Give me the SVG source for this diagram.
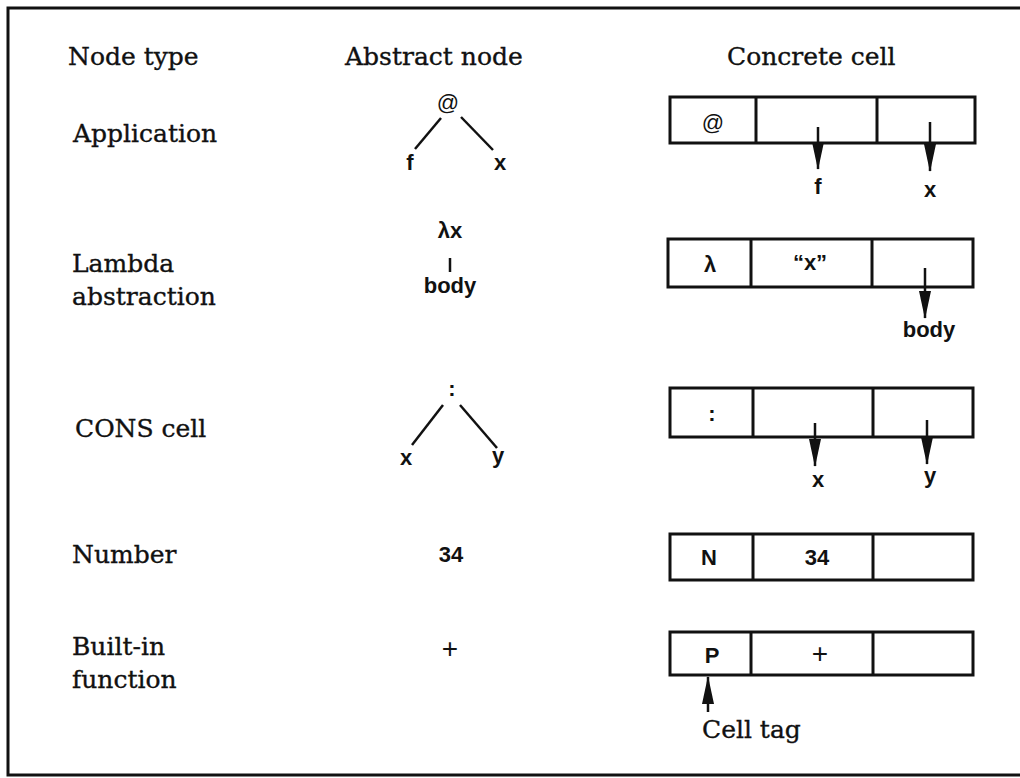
<svg xmlns="http://www.w3.org/2000/svg" width="1020" height="778" viewBox="0 0 1020 778">
<defs>
<style>
.hd{font-family:"DejaVu Serif","Liberation Serif",serif;font-size:25px;fill:#111;stroke:#111;stroke-width:0.35}
.lb{font-family:"Liberation Sans",Arial,sans-serif;font-size:22px;font-weight:bold;fill:#111;text-anchor:middle}
.pl{font-family:"Liberation Sans",Arial,sans-serif;font-size:28px;font-weight:normal;fill:#111;text-anchor:middle}
.cell{fill:none;stroke:#111;stroke-width:3}
.div{stroke:#111;stroke-width:3}
.ln{stroke:#111;stroke-width:2.5;fill:none}
.ar{stroke:#111;stroke-width:2.5;fill:none;marker-end:url(#ah)}
</style>
<marker id="ah" viewBox="0 0 28 12" refX="27" refY="6" markerWidth="28" markerHeight="12" markerUnits="userSpaceOnUse" orient="auto">
<path d="M0,0 L28,6 L0,12 Z" fill="#111"/>
</marker>
</defs>
<rect width="1020" height="778" fill="#fff"/>
<rect x="8" y="8" width="1030" height="767" fill="none" stroke="#111" stroke-width="3"/>

<g id="headers">
<text class="hd" x="68" y="65">Node type</text>
<text class="hd" x="345" y="65">Abstract node</text>
<text class="hd" x="727" y="65">Concrete cell</text>
</g>

<g id="row-application">
<text class="hd" x="73" y="142">Application</text>
<text class="lb" x="448" y="110" style="font-weight:normal">@</text>
<text class="lb" x="410" y="170">f</text>
<text class="lb" x="500" y="170">x</text>
<g id="cell-application">
<rect class="cell" x="670" y="97" width="305" height="46"/>
<line class="div" x1="756" y1="97" x2="756" y2="143"/>
<line class="div" x1="877" y1="97" x2="877" y2="143"/>
<text class="lb" x="713" y="130" style="font-weight:normal">@</text>
<text class="lb" x="818" y="194">f</text>
<text class="lb" x="930" y="197">x</text>
</g>
</g>

<g id="row-lambda">
<text class="hd" x="72" y="272">Lambda</text>
<text class="hd" x="72" y="305">abstraction</text>
<text class="lb" x="450" y="238">λx</text>
<text class="lb" x="450" y="293">body</text>
<g id="cell-lambda">
<rect class="cell" x="668" y="239" width="305" height="48"/>
<line class="div" x1="751" y1="239" x2="751" y2="287"/>
<line class="div" x1="872" y1="239" x2="872" y2="287"/>
<text class="lb" x="710" y="272">λ</text>
<text class="lb" x="810" y="270">“x”</text>
<text class="lb" x="929" y="337">body</text>
</g>
</g>

<g id="row-cons">
<text class="hd" x="75" y="437">CONS cell</text>
<text class="lb" x="452" y="396">:</text>
<text class="lb" x="406" y="465">x</text>
<text class="lb" x="498" y="463">y</text>
<g id="cell-cons">
<rect class="cell" x="670" y="388" width="303" height="49"/>
<line class="div" x1="753" y1="388" x2="753" y2="437"/>
<line class="div" x1="873" y1="388" x2="873" y2="437"/>
<text class="lb" x="712" y="421">:</text>
<text class="lb" x="818" y="487">x</text>
<text class="lb" x="930" y="483">y</text>
</g>
</g>

<g id="row-number">
<text class="hd" x="72" y="563">Number</text>
<text class="lb" x="451" y="562">34</text>
<g id="cell-number">
<rect class="cell" x="670" y="534" width="303" height="46"/>
<line class="div" x1="753" y1="534" x2="753" y2="580"/>
<line class="div" x1="873" y1="534" x2="873" y2="580"/>
<text class="lb" x="709" y="565">N</text>
<text class="lb" x="817" y="565">34</text>
</g>
</g>

<g id="row-builtin">
<text class="hd" x="72" y="655">Built-in</text>
<text class="hd" x="72" y="688">function</text>
<text class="pl" x="450" y="658">+</text>
<g id="cell-builtin">
<rect class="cell" x="670" y="632" width="303" height="43"/>
<line class="div" x1="751" y1="632" x2="751" y2="675"/>
<line class="div" x1="873" y1="632" x2="873" y2="675"/>
<text class="lb" x="712" y="663">P</text>
<text class="pl" x="820" y="663">+</text>
<text class="hd" x="702" y="738">Cell tag</text>
</g>
</g>

<g id="connectors">
<line class="ln" x1="441" y1="118" x2="415" y2="149"/>
<line class="ln" x1="461" y1="117" x2="493" y2="150"/>
<line class="ln" x1="450" y1="258" x2="450" y2="272"/>
<line class="ln" x1="443" y1="405" x2="412" y2="445"/>
<line class="ln" x1="460" y1="405" x2="497" y2="448"/>
<line class="ar" x1="818" y1="127" x2="818" y2="169"/>
<line class="ar" x1="930" y1="122" x2="930" y2="171"/>
<line class="ar" x1="925" y1="268" x2="925" y2="318"/>
<line class="ar" x1="815" y1="423" x2="815" y2="466"/>
<line class="ar" x1="927" y1="420" x2="927" y2="464"/>
<line class="ar" x1="708" y1="712" x2="708" y2="677"/>
</g>
</svg>
